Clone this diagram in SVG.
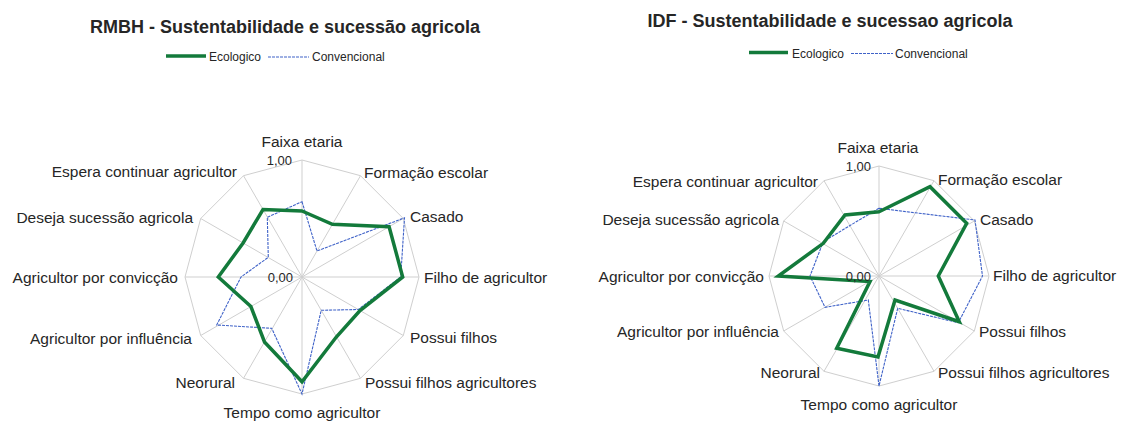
<svg xmlns="http://www.w3.org/2000/svg" width="1122" height="423" viewBox="0 0 1122 423">
<style>
text{font-family:"Liberation Sans",Arial,sans-serif;fill:#262626}
.title{font-size:18px;font-weight:bold;text-anchor:middle}
.leg{font-size:12px}
.ax{font-size:15.5px}
.tick{font-size:13px;text-anchor:end}
.grid{fill:none;stroke:#cfcfcf;stroke-width:1}
.eco{fill:none;stroke:#137a3b;stroke-width:3.5;stroke-linejoin:miter}
.conv{fill:none;stroke:#3f62c8;stroke-width:1.1;stroke-dasharray:3 1}
.mid{text-anchor:middle}
.end{text-anchor:end}
</style>
<rect width="1122" height="423" fill="#ffffff"/>

<g id="chart-rmbh">
  <text class="title" x="285" y="33">RMBH - Sustentabilidade e sucessão agricola</text>
  <g id="legend-rmbh">
    <line x1="166" y1="56" x2="206" y2="56" stroke="#137a3b" stroke-width="3.5"/>
    <text class="leg" x="209" y="61">Ecologico</text>
    <line x1="268" y1="57" x2="309" y2="57" class="conv"/>
    <text class="leg" x="312" y="61">Convencional</text>
  </g>
  <g id="grid-rmbh">
    <polygon class="grid" points="302,160 360.5,175.7 403.3,218.5 419,277 403.3,335.5 360.5,378.3 302,394 243.5,378.3 200.7,335.5 185,277 200.7,218.5 243.5,175.7"/>
    <path class="grid" d="M302,277L302,160M302,277L360.5,175.7M302,277L403.3,218.5M302,277L419,277M302,277L403.3,335.5M302,277L360.5,378.3M302,277L302,394M302,277L243.5,378.3M302,277L200.7,335.5M302,277L185,277M302,277L200.7,218.5M302,277L243.5,175.7"/>
  </g>
  <g id="series-rmbh">
    <polygon class="conv" points="302,201.7 317,251 404.5,217.8 400.7,277 358.3,309.5 321.2,310.3 302,394 271.7,328.3 216.7,325 241,277 268.3,257.3 267.3,217.3"/>
    <polygon class="eco" points="302,211 332.4,224.3 389.1,226.7 402.7,277 360,310.5 336.5,336.8 302,381.7 264.5,342 250.9,306.5 218.3,277 243.1,243 263,209.5"/>
  </g>
  <g id="labels-rmbh">
    <text class="tick" x="292" y="165">1,00</text>
    <text class="tick" x="293" y="282">0,00</text>
    <text class="ax mid" x="302" y="147">Faixa etaria</text>
    <text class="ax" x="364" y="178">Formação escolar</text>
    <text class="ax" x="410" y="222">Casado</text>
    <text class="ax" x="424" y="283">Filho de agricultor</text>
    <text class="ax" x="410" y="343">Possui filhos</text>
    <text class="ax" x="365" y="388">Possui filhos agricultores</text>
    <text class="ax mid" x="302" y="418">Tempo como agricultor</text>
    <text class="ax end" x="235" y="388">Neorural</text>
    <text class="ax end" x="192" y="344">Agricultor por influência</text>
    <text class="ax end" x="178" y="283">Agricultor por convicção</text>
    <text class="ax end" x="193" y="223">Deseja sucessão agricola</text>
    <text class="ax end" x="237" y="177">Espera continuar agricultor</text>
  </g>
</g>

<g id="chart-idf">
  <text class="title" x="830" y="27">IDF - Sustentabilidade e sucessao agricola</text>
  <g id="legend-idf">
    <line x1="749" y1="52.5" x2="788" y2="52.5" stroke="#137a3b" stroke-width="3.5"/>
    <text class="leg" x="792" y="57.5">Ecologico</text>
    <line x1="851" y1="53.5" x2="893" y2="53.5" class="conv"/>
    <text class="leg" x="895" y="57.5">Convencional</text>
  </g>
  <g id="grid-idf">
    <polygon class="grid" points="879,166 934,180.7 974.3,221 989,276 974.3,331 934,371.3 879,386 824,371.3 783.7,331 769,276 783.7,221 824,180.7"/>
    <path class="grid" d="M879,276L879,166M879,276L934,180.7M879,276L974.3,221M879,276L989,276M879,276L974.3,331M879,276L934,371.3M879,276L879,386M879,276L824,371.3M879,276L783.7,331M879,276L769,276M879,276L783.7,221M879,276L824,180.7"/>
  </g>
  <g id="series-idf">
    <polygon class="conv" points="879,208.3 915.5,212.8 975,220 982.5,276 958.3,322.7 897.7,308.3 879,386 868.3,300 825,307.3 810,276 823.3,241.7 850,225.5"/>
    <polygon class="eco" points="879,211.7 930,186.7 966.7,223.3 938.3,276 959.3,321.7 895,300 878,357 836.7,348.3 870,281.5 778.3,276 823.3,243.3 845,215"/>
  </g>
  <g id="labels-idf">
    <text class="tick" x="871" y="171">1,00</text>
    <text class="tick" x="871" y="281">0,00</text>
    <text class="ax mid" x="878" y="153">Faixa etaria</text>
    <text class="ax" x="938" y="185">Formação escolar</text>
    <text class="ax" x="980" y="225">Casado</text>
    <text class="ax" x="993" y="281">Filho de agricultor</text>
    <text class="ax" x="979" y="337">Possui filhos</text>
    <text class="ax" x="938" y="378">Possui filhos agricultores</text>
    <text class="ax mid" x="879" y="410">Tempo como agricultor</text>
    <text class="ax end" x="820" y="378">Neorural</text>
    <text class="ax end" x="779" y="337">Agricultor por influência</text>
    <text class="ax end" x="764" y="282">Agricultor por convicção</text>
    <text class="ax end" x="779" y="225">Deseja sucessão agricola</text>
    <text class="ax end" x="818" y="187">Espera continuar agricultor</text>
  </g>
</g>
</svg>
